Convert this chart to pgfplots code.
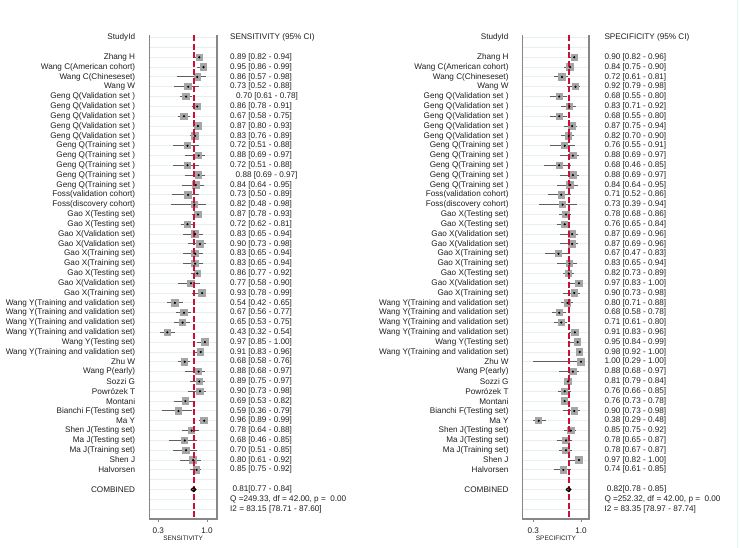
\documentclass[border=0pt]{standalone}
\usepackage{pgfplots}
\pgfplotsset{compat=1.18}
\usepackage{pgfplotstable}
\usepackage{fontspec}
\setmainfont{Liberation Sans}

\definecolor{gridc}{RGB}{232,239,241}
\definecolor{axc}{RGB}{135,135,135}
\definecolor{refred}{RGB}{200,16,58}
\definecolor{txt}{RGB}{30,30,30}
\definecolor{sq}{RGB}{165,165,165}
\definecolor{cil}{RGB}{95,95,95}
\definecolor{edgec}{RGB}{228,244,247}
\newcommand\fs{\fontsize{8.2}{9}\selectfont}

\pgfplotstableread{
y e lo hi
1 0.89 0.82 0.94
2 0.95 0.86 0.99
3 0.86 0.57 0.98
4 0.73 0.52 0.88
5 0.70 0.61 0.78
6 0.86 0.78 0.91
7 0.67 0.58 0.75
8 0.87 0.80 0.93
9 0.83 0.76 0.89
10 0.72 0.51 0.88
11 0.88 0.69 0.97
12 0.72 0.51 0.88
13 0.88 0.69 0.97
14 0.84 0.64 0.95
15 0.73 0.50 0.89
16 0.82 0.48 0.98
17 0.87 0.78 0.93
18 0.72 0.62 0.81
19 0.83 0.65 0.94
20 0.90 0.73 0.98
21 0.83 0.65 0.94
22 0.83 0.65 0.94
23 0.86 0.77 0.92
24 0.77 0.58 0.90
25 0.93 0.78 0.99
26 0.54 0.42 0.65
27 0.67 0.56 0.77
28 0.65 0.53 0.75
29 0.43 0.32 0.54
30 0.97 0.85 1.00
31 0.91 0.83 0.96
32 0.68 0.58 0.76
33 0.88 0.68 0.97
34 0.89 0.75 0.97
35 0.90 0.73 0.98
36 0.69 0.53 0.82
37 0.59 0.36 0.79
38 0.96 0.89 0.99
39 0.78 0.64 0.88
40 0.68 0.46 0.85
41 0.70 0.51 0.85
42 0.80 0.61 0.92
43 0.85 0.75 0.92
}\sens

\pgfplotstableread{
y e lo hi
1 0.90 0.82 0.96
2 0.84 0.75 0.90
3 0.72 0.61 0.81
4 0.92 0.79 0.98
5 0.68 0.55 0.80
6 0.83 0.71 0.92
7 0.68 0.55 0.80
8 0.87 0.75 0.94
9 0.82 0.70 0.90
10 0.76 0.55 0.91
11 0.88 0.69 0.97
12 0.68 0.46 0.85
13 0.88 0.69 0.97
14 0.84 0.64 0.95
15 0.71 0.52 0.86
16 0.73 0.39 0.94
17 0.78 0.68 0.86
18 0.76 0.65 0.84
19 0.87 0.69 0.96
20 0.87 0.69 0.96
21 0.67 0.47 0.83
22 0.83 0.65 0.94
23 0.82 0.73 0.89
24 0.97 0.83 1.00
25 0.90 0.73 0.98
26 0.80 0.71 0.88
27 0.68 0.58 0.78
28 0.71 0.61 0.80
29 0.91 0.83 0.96
30 0.95 0.84 0.99
31 0.98 0.92 1.00
32 1.00 0.29 1.00
33 0.88 0.68 0.97
34 0.81 0.79 0.84
35 0.76 0.66 0.85
36 0.76 0.73 0.78
37 0.90 0.73 0.98
38 0.38 0.29 0.48
39 0.85 0.75 0.92
40 0.78 0.65 0.87
41 0.78 0.67 0.87
42 0.97 0.82 1.00
43 0.74 0.61 0.85
}\spec

\pgfplotsset{
 forest/.style={
  scale only axis, anchor=south west, height=484bp,
  y dir=reverse, ymin=-1.27, ymax=48, clip=false,
  axis line style={draw=none},
  xtick={0.3,1}, xticklabels={0.3,1.0}, xtick pos=bottom, xtick align=outside,
  xtick style={axc, line width=0.9bp},
  major tick length=3bp,
  ytick={-1,0,...,47}, ytick style={draw=none},
  ymajorgrids, grid style={gridc, line width=0.9bp},
  tick label style={font=\fs, text=txt},
  yticklabel style={anchor=east, inner sep=0pt, xshift=-14bp},
  xticklabel style={inner sep=0pt, yshift=-6bp},
  xlabel style={font=\fontsize{6.5}{7}\selectfont, text=txt, at={(axis description cs:0.5,0)}, anchor=center, yshift=-19bp},
  yticklabels={StudyId,{},Zhang H,Wang C(American cohort),Wang C(Chineseset),Wang W,
   Geng Q(Validation set ),Geng Q(Validation set ),Geng Q(Validation set ),Geng Q(Validation set ),Geng Q(Validation set ),
   Geng Q(Training set ),Geng Q(Training set ),Geng Q(Training set ),Geng Q(Training set ),Geng Q(Training set ),
   Foss(validation cohort),Foss(discovery cohort),
   Gao X(Testing set),Gao X(Testing set),Gao X(Validation set),Gao X(Validation set),Gao X(Training set),Gao X(Training set),
   Gao X(Testing set),Gao X(Validation set),Gao X(Training set),
   Wang Y(Training and validation set),Wang Y(Training and validation set),Wang Y(Training and validation set),Wang Y(Training and validation set),
   Wang Y(Testing set),Wang Y(Training and validation set),
   Zhu W,Wang P(early),Sozzi G,Powr\'ozek T,Montani,Bianchi F(Testing set),Ma Y,Shen J(Testing set),Ma J(Testing set),Ma J(Training set),Shen J,Halvorsen,
   {},COMBINED,{},{}},
 },
 vals/.style={
  scale only axis, anchor=south west, height=484bp,
  y dir=reverse, ymin=-1.27, ymax=48, clip=false,
  hide x axis, axis y line*=right, y axis line style={draw=none},
  ytick={-1,0,...,47}, ytick style={draw=none}, major tick length=0pt,
  tick label style={font=\fs, text=txt},
  yticklabel style={anchor=west, inner sep=0pt},
 },
 ci/.style={only marks, mark=none, error bars/.cd, x dir=both, x explicit, error mark=none,
   error bar style={cil, line width=0.9bp}},
 sqr/.style={only marks, mark=square*, mark size=3.2bp, mark options={draw=sq, fill=sq, line width=0pt}},
 dot/.style={only marks, mark=*, mark size=0.85bp, mark options={draw=black, fill=black}},
 refl/.style={draw=refred, color=refred, dash pattern=on 6bp off 2.5bp, line width=1.5bp, mark=none},
}

\begin{document}
\begin{tikzpicture}
\path[use as bounding box] (0,0) rectangle (740bp,548bp);
\draw[edgec, line width=1bp] (737bp,0) -- (737bp,548bp);

% ---------------- Sensitivity ----------------
\begin{axis}[forest, at={(149.3bp,29bp)}, width=67.7bp, xmin=0.171, xmax=1.144, xlabel={SENSITIVITY}]
 \addplot[ci] table[x=e, y=y, x error plus expr=\thisrow{hi}-\thisrow{e}, x error minus expr=\thisrow{e}-\thisrow{lo}] {\sens};
 \addplot[sqr] table[x=e, y=y] {\sens};
 \draw[axc, line width=1.2bp] (axis description cs:0,1) -- (axis description cs:0,0) -- (axis description cs:1,0) -- (axis description cs:1,1);
\end{axis}
\begin{axis}[vals, at={(149.3bp,29bp)}, width=67.7bp, xmin=0.171, xmax=1.144, yticklabel style={xshift=13bp},
  yticklabels={SENSITIVITY (95\% CI),{},
   0.89 [0.82 - 0.94],0.95 [0.86 - 0.99],0.86 [0.57 - 0.98],0.73 [0.52 - 0.88],
   \hspace{6bp}0.70 [0.61 - 0.78],0.86 [0.78 - 0.91],0.67 [0.58 - 0.75],0.87 [0.80 - 0.93],0.83 [0.76 - 0.89],
   0.72 [0.51 - 0.88],0.88 [0.69 - 0.97],0.72 [0.51 - 0.88],\hspace{5.5bp}0.88 [0.69 - 0.97],0.84 [0.64 - 0.95],
   0.73 [0.50 - 0.89],0.82 [0.48 - 0.98],
   0.87 [0.78 - 0.93],0.72 [0.62 - 0.81],0.83 [0.65 - 0.94],0.90 [0.73 - 0.98],0.83 [0.65 - 0.94],0.83 [0.65 - 0.94],
   0.86 [0.77 - 0.92],0.77 [0.58 - 0.90],0.93 [0.78 - 0.99],
   0.54 [0.42 - 0.65],0.67 [0.56 - 0.77],0.65 [0.53 - 0.75],0.43 [0.32 - 0.54],0.97 [0.85 - 1.00],0.91 [0.83 - 0.96],
   0.68 [0.58 - 0.76],0.88 [0.68 - 0.97],0.89 [0.75 - 0.97],0.90 [0.73 - 0.98],0.69 [0.53 - 0.82],0.59 [0.36 - 0.79],
   0.96 [0.89 - 0.99],0.78 [0.64 - 0.88],0.68 [0.46 - 0.85],0.70 [0.51 - 0.85],0.80 [0.61 - 0.92],0.85 [0.75 - 0.92],
   {},\hspace{2.3bp}0.81[0.77 - 0.84],{Q =249.33, df = 42.00, p = \ 0.00},I2 = 83.15 [78.71 - 87.60]}]
 \addplot[refl] coordinates {(0.81,-1.27) (0.81,48)};
 \addplot[dot] table[x=e, y=y] {\sens};
 \addplot[black, line width=1.2bp, mark=none] coordinates {(0.77,45) (0.81,44.8) (0.84,45) (0.81,45.2) (0.77,45)};
\end{axis}

% ---------------- Specificity ----------------
\begin{axis}[forest, at={(522.7bp,29bp)}, width=66.3bp, xmin=0.144, xmax=1.117, xlabel={SPECIFICITY}]
 \addplot[ci] table[x=e, y=y, x error plus expr=\thisrow{hi}-\thisrow{e}, x error minus expr=\thisrow{e}-\thisrow{lo}] {\spec};
 \addplot[sqr] table[x=e, y=y] {\spec};
 \draw[axc, line width=1.2bp] (axis description cs:0,1) -- (axis description cs:0,0) -- (axis description cs:1,0) -- (axis description cs:1,1);
\end{axis}
\begin{axis}[vals, at={(522.7bp,29bp)}, width=66.3bp, xmin=0.144, xmax=1.117, yticklabel style={xshift=15.3bp},
  yticklabels={SPECIFICITY (95\% CI),{},
   0.90 [0.82 - 0.96],0.84 [0.75 - 0.90],0.72 [0.61 - 0.81],0.92 [0.79 - 0.98],
   0.68 [0.55 - 0.80],0.83 [0.71 - 0.92],0.68 [0.55 - 0.80],0.87 [0.75 - 0.94],0.82 [0.70 - 0.90],
   0.76 [0.55 - 0.91],0.88 [0.69 - 0.97],0.68 [0.46 - 0.85],0.88 [0.69 - 0.97],0.84 [0.64 - 0.95],
   0.71 [0.52 - 0.86],0.73 [0.39 - 0.94],
   0.78 [0.68 - 0.86],0.76 [0.65 - 0.84],0.87 [0.69 - 0.96],0.87 [0.69 - 0.96],0.67 [0.47 - 0.83],0.83 [0.65 - 0.94],
   0.82 [0.73 - 0.89],0.97 [0.83 - 1.00],0.90 [0.73 - 0.98],
   0.80 [0.71 - 0.88],0.68 [0.58 - 0.78],0.71 [0.61 - 0.80],0.91 [0.83 - 0.96],0.95 [0.84 - 0.99],0.98 [0.92 - 1.00],
   1.00 [0.29 - 1.00],0.88 [0.68 - 0.97],0.81 [0.79 - 0.84],0.76 [0.66 - 0.85],0.76 [0.73 - 0.78],0.90 [0.73 - 0.98],
   0.38 [0.29 - 0.48],0.85 [0.75 - 0.92],0.78 [0.65 - 0.87],0.78 [0.67 - 0.87],0.97 [0.82 - 1.00],0.74 [0.61 - 0.85],
   {},\hspace{2.3bp}0.82[0.78 - 0.85],{Q =252.32, df = 42.00, p = \ 0.00},I2 = 83.35 [78.97 - 87.74]}]
 \addplot[refl] coordinates {(0.82,-1.27) (0.82,48)};
 \addplot[dot] table[x=e, y=y] {\spec};
 \addplot[black, line width=1.2bp, mark=none] coordinates {(0.78,45) (0.82,44.8) (0.85,45) (0.82,45.2) (0.78,45)};
\end{axis}
\end{tikzpicture}
\end{document}
